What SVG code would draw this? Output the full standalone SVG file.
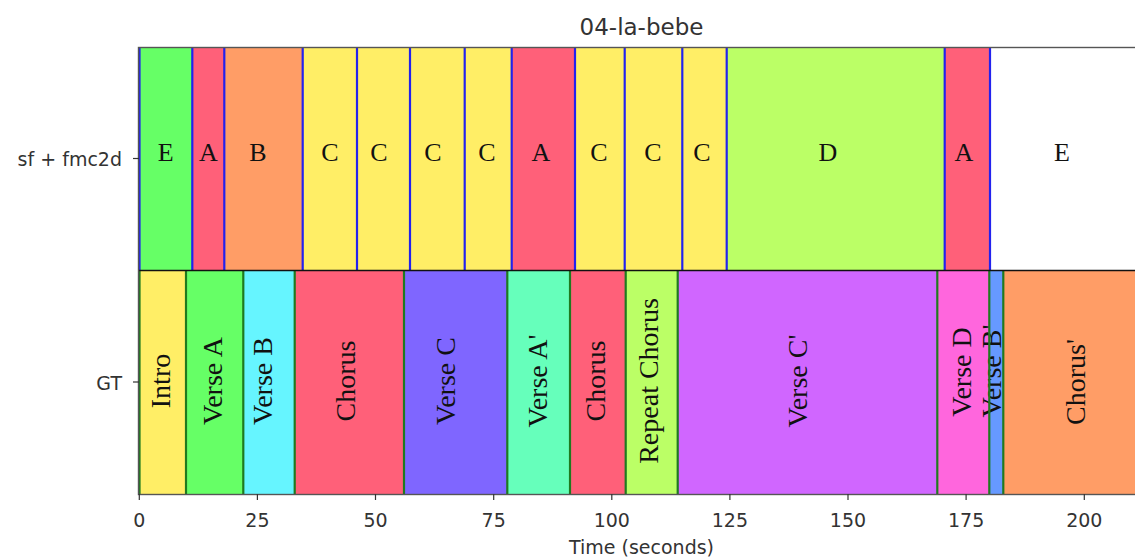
<svg xmlns="http://www.w3.org/2000/svg" width="1135" height="559" viewBox="0 0 1135 559">
  <style>
    .seg { stroke: none; }
    .lab { font-family: "Liberation Serif", "Times New Roman", serif; font-size: 26px; fill: #111; text-anchor: middle; dominant-baseline: central; }
    .vlab { font-size: 28px; }
    .ax { font-family: "DejaVu Sans", sans-serif; font-size: 19px; fill: #333; }
    .title { font-size: 23px; }
    .bnd-top { stroke: #2222ee; stroke-width: 2.2; }
    .bnd-gt { stroke: #1f7a1f; stroke-width: 2.2; }
    .tick { stroke: #333; stroke-width: 1.2; }
  </style>
  <rect width="1135" height="559" fill="#ffffff"/>

  <text class="ax title" x="641.5" y="35" text-anchor="middle">04-la-bebe</text>

  <!-- upper bar: sf + fmc2d segmentation -->
  <g id="row-sf">
    <g id="sf-0"><rect class="seg" x="139" y="47" width="53.3" height="223" fill="#66ff66"/><text class="lab" x="165.6" y="152">E</text></g>
    <g id="sf-1"><rect class="seg" x="192.3" y="47" width="32" height="223" fill="#ff6079"/><text class="lab" x="208.3" y="152">A</text></g>
    <g id="sf-2"><rect class="seg" x="224.3" y="47" width="78.4" height="223" fill="#ff9d66"/><text class="lab" x="258" y="152">B</text></g>
    <g id="sf-3"><rect class="seg" x="302.7" y="47" width="54.3" height="223" fill="#ffee66"/><text class="lab" x="330" y="152">C</text></g>
    <g id="sf-4"><rect class="seg" x="357" y="47" width="53" height="223" fill="#ffee66"/><text class="lab" x="379" y="152">C</text></g>
    <g id="sf-5"><rect class="seg" x="410" y="47" width="54.7" height="223" fill="#ffee66"/><text class="lab" x="433" y="152">C</text></g>
    <g id="sf-6"><rect class="seg" x="464.7" y="47" width="47" height="223" fill="#ffee66"/><text class="lab" x="487" y="152">C</text></g>
    <g id="sf-7"><rect class="seg" x="511.7" y="47" width="63.3" height="223" fill="#ff6079"/><text class="lab" x="541" y="152">A</text></g>
    <g id="sf-8"><rect class="seg" x="575" y="47" width="49.7" height="223" fill="#ffee66"/><text class="lab" x="599" y="152">C</text></g>
    <g id="sf-9"><rect class="seg" x="624.7" y="47" width="57.6" height="223" fill="#ffee66"/><text class="lab" x="653" y="152">C</text></g>
    <g id="sf-10"><rect class="seg" x="682.3" y="47" width="44.4" height="223" fill="#ffee66"/><text class="lab" x="702" y="152">C</text></g>
    <g id="sf-11"><rect class="seg" x="726.7" y="47" width="218" height="223" fill="#bbff66"/><text class="lab" x="828" y="152">D</text></g>
    <g id="sf-12"><rect class="seg" x="944.7" y="47" width="45.3" height="223" fill="#ff6079"/><text class="lab" x="964" y="152">A</text></g>
    <g id="sf-13"><rect class="seg" x="990" y="47" width="145" height="223" fill="#ffffff"/><text class="lab" x="1062" y="152">E</text></g>
  </g>

  <!-- lower bar: ground truth -->
  <g id="row-gt">
    <g id="gt-0"><rect class="seg" x="139" y="270" width="47" height="224" fill="#ffee66"/><text class="lab vlab" transform="translate(160,381) rotate(-90)">Intro</text></g>
    <g id="gt-1"><rect class="seg" x="186" y="270" width="57.3" height="224" fill="#66ff66"/><text class="lab vlab" transform="translate(212,381) rotate(-90)">Verse A</text></g>
    <g id="gt-2"><rect class="seg" x="243.3" y="270" width="51.4" height="224" fill="#66f5ff"/><text class="lab vlab" transform="translate(262,381) rotate(-90)">Verse B</text></g>
    <g id="gt-3"><rect class="seg" x="294.7" y="270" width="109.3" height="224" fill="#ff6079"/><text class="lab vlab" transform="translate(345,381) rotate(-90)">Chorus</text></g>
    <g id="gt-4"><rect class="seg" x="404" y="270" width="103.3" height="224" fill="#7f66ff"/><text class="lab vlab" transform="translate(445,381) rotate(-90)">Verse C</text></g>
    <g id="gt-5"><rect class="seg" x="507.3" y="270" width="62.7" height="224" fill="#66ffbb"/><text class="lab vlab" transform="translate(537,381) rotate(-90)">Verse A'</text></g>
    <g id="gt-6"><rect class="seg" x="570" y="270" width="55.7" height="224" fill="#ff6079"/><text class="lab vlab" transform="translate(595,381) rotate(-90)">Chorus</text></g>
    <g id="gt-7"><rect class="seg" x="625.7" y="270" width="52" height="224" fill="#bbff66"/><text class="lab vlab" transform="translate(648,381) rotate(-90)">Repeat Chorus</text></g>
    <g id="gt-8"><rect class="seg" x="677.7" y="270" width="259.6" height="224" fill="#d066ff"/><text class="lab vlab" transform="translate(797,381) rotate(-90)">Verse C'</text></g>
    <g id="gt-9"><rect class="seg" x="937.3" y="270" width="52" height="224" fill="#ff66dd"/><text class="lab vlab" transform="translate(961,372) rotate(-90)">Verse D</text></g>
    <g id="gt-10"><rect class="seg" x="989.3" y="270" width="14" height="224" fill="#6699ff"/><text class="lab vlab" transform="translate(991,371) rotate(-90)">Verse B'</text></g>
    <g id="gt-11"><rect class="seg" x="1003.3" y="270" width="131.7" height="224" fill="#ff9d66"/><text class="lab vlab" transform="translate(1075,382) rotate(-90)">Chorus'</text></g>
  </g>

  <!-- boundary markers -->
  <g id="connectors">
    <g class="bnd-top">
      <line x1="139.5" y1="47" x2="139.5" y2="270"/>
      <line x1="192.3" y1="47" x2="192.3" y2="270"/>
      <line x1="224.3" y1="47" x2="224.3" y2="270"/>
      <line x1="302.7" y1="47" x2="302.7" y2="270"/>
      <line x1="357" y1="47" x2="357" y2="270"/>
      <line x1="410" y1="47" x2="410" y2="270"/>
      <line x1="464.7" y1="47" x2="464.7" y2="270"/>
      <line x1="511.7" y1="47" x2="511.7" y2="270"/>
      <line x1="575" y1="47" x2="575" y2="270"/>
      <line x1="624.7" y1="47" x2="624.7" y2="270"/>
      <line x1="682.3" y1="47" x2="682.3" y2="270"/>
      <line x1="726.7" y1="47" x2="726.7" y2="270"/>
      <line x1="944.7" y1="47" x2="944.7" y2="270"/>
      <line x1="990" y1="47" x2="990" y2="270"/>
    </g>
    <g class="bnd-gt">
      <line x1="139.5" y1="270" x2="139.5" y2="494"/>
      <line x1="186" y1="270" x2="186" y2="494"/>
      <line x1="243.3" y1="270" x2="243.3" y2="494"/>
      <line x1="294.7" y1="270" x2="294.7" y2="494"/>
      <line x1="404" y1="270" x2="404" y2="494"/>
      <line x1="507.3" y1="270" x2="507.3" y2="494"/>
      <line x1="570" y1="270" x2="570" y2="494"/>
      <line x1="625.7" y1="270" x2="625.7" y2="494"/>
      <line x1="677.7" y1="270" x2="677.7" y2="494"/>
      <line x1="937.3" y1="270" x2="937.3" y2="494"/>
      <line x1="989.3" y1="270" x2="989.3" y2="494"/>
      <line x1="1003.3" y1="270" x2="1003.3" y2="494"/>
    </g>
  </g>

  <!-- axes frame, divider and ticks -->
  <g id="axes">
    <line x1="139" y1="270.5" x2="1135" y2="270.5" stroke="#111" stroke-width="1.6"/>
    <rect x="138.5" y="47.5" width="1010" height="447" fill="none" stroke="#555" stroke-width="1.4"/>
    <g class="tick">
      <line x1="139.3" y1="494" x2="139.3" y2="500"/>
      <line x1="257.4" y1="494" x2="257.4" y2="500"/>
      <line x1="375.5" y1="494" x2="375.5" y2="500"/>
      <line x1="493.7" y1="494" x2="493.7" y2="500"/>
      <line x1="611.8" y1="494" x2="611.8" y2="500"/>
      <line x1="729.9" y1="494" x2="729.9" y2="500"/>
      <line x1="848" y1="494" x2="848" y2="500"/>
      <line x1="966.1" y1="494" x2="966.1" y2="500"/>
      <line x1="1084.3" y1="494" x2="1084.3" y2="500"/>
      <line x1="133" y1="158.5" x2="139" y2="158.5"/>
      <line x1="133" y1="382" x2="139" y2="382"/>
    </g>
    <g class="ax" text-anchor="middle">
      <text x="139.3" y="526.5">0</text>
      <text x="257.4" y="526.5">25</text>
      <text x="375.5" y="526.5">50</text>
      <text x="493.7" y="526.5">75</text>
      <text x="611.8" y="526.5">100</text>
      <text x="729.9" y="526.5">125</text>
      <text x="848" y="526.5">150</text>
      <text x="966.1" y="526.5">175</text>
      <text x="1084.3" y="526.5">200</text>
      <text x="641.5" y="553.5">Time (seconds)</text>
    </g>
    <g class="ax" text-anchor="end">
      <text x="122" y="166">sf + fmc2d</text>
      <text x="122" y="390">GT</text>
    </g>
  </g>
</svg>
